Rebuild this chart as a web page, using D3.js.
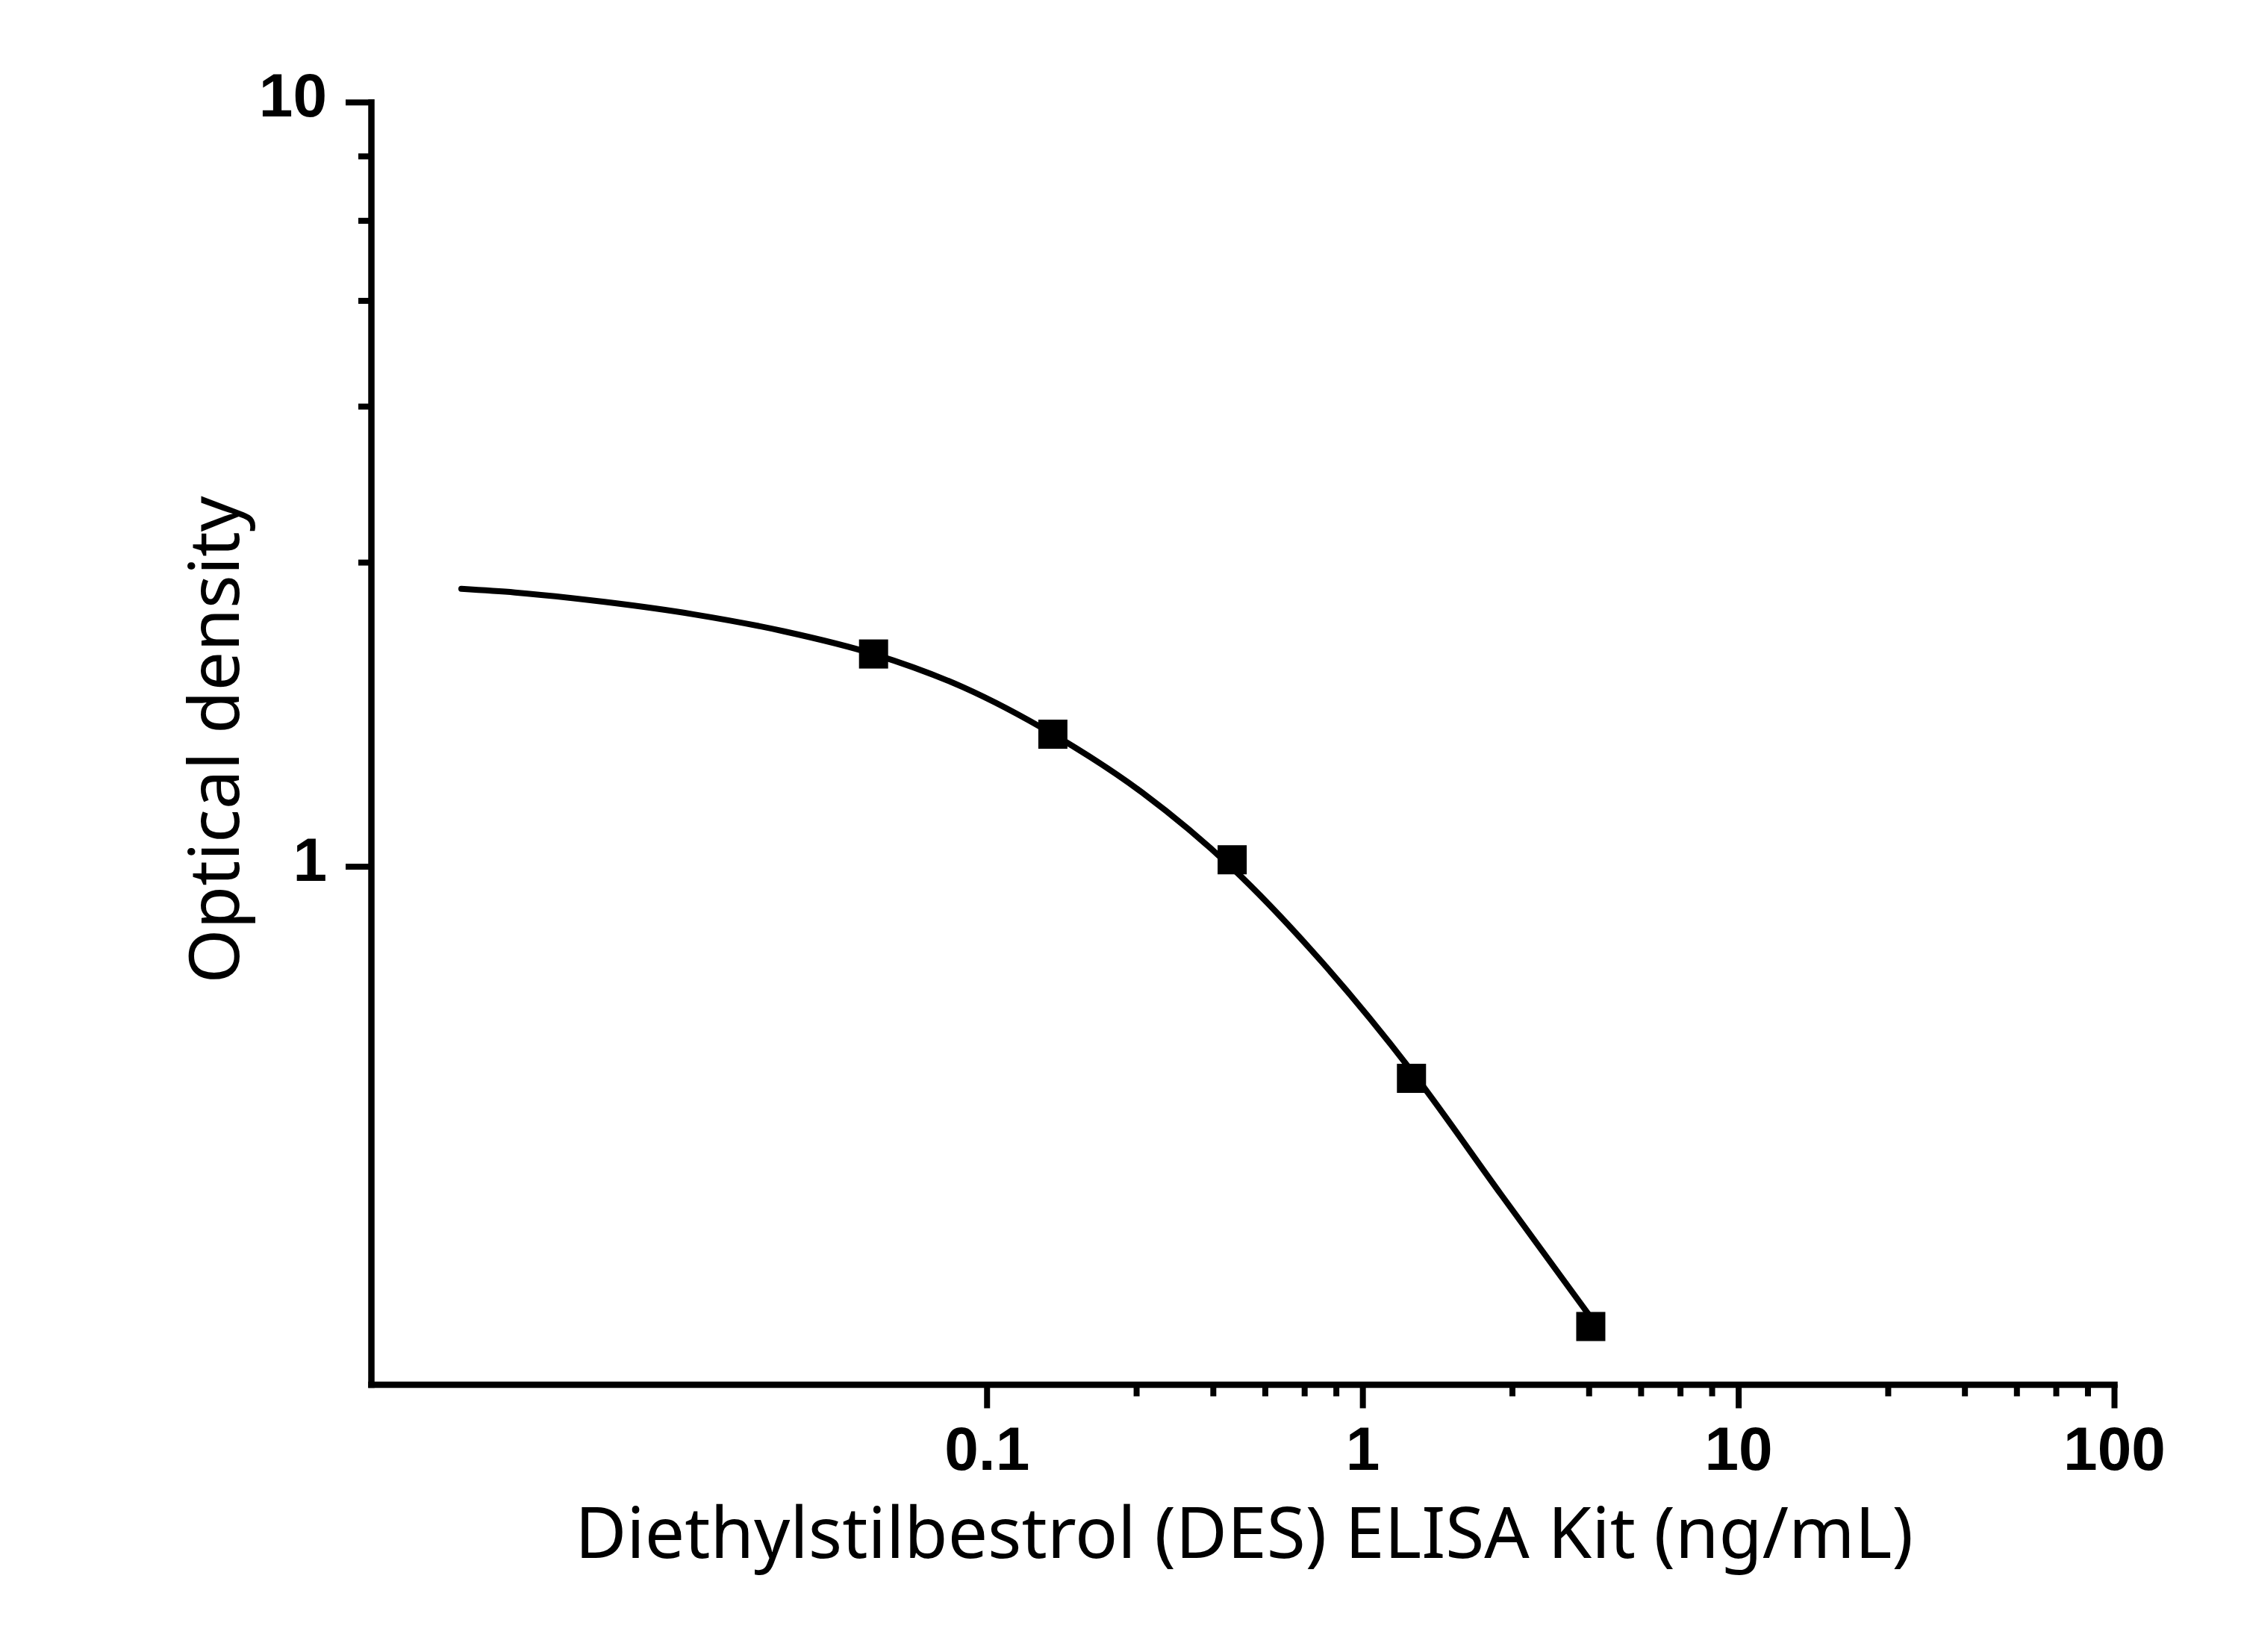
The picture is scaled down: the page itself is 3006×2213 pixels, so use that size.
<!DOCTYPE html>
<html>
    <head>
        <meta charset="utf-8">
        <title>DES ELISA standard curve</title>
        <script type="text/javascript" src="https://cdn.jsdelivr.net/npm/d3@7"></script>
        <style>
            html, body { margin: 0; padding: 0; background: #fff; }
            svg { display: block; }
        </style>
    </head>
    <body>
        <div id="chart"></div>
        <script type="text/javascript">
            // standard points (ng/mL vs OD)
            var concentrations = [0.05, 0.15, 0.45, 1.35, 4.05];
            var densities = [1.896, 1.489, 1.020, 0.528, 0.250];

            // fitted curve (it misses some points slightly)
            var curveX = [0.004, 0.00556, 0.00962, 0.01667, 0.0289, 0.05, 0.0866, 0.15, 0.2598, 0.45, 0.779, 1.35, 2.338, 4.05];
            var curveY = [2.307, 2.282, 2.218, 2.136, 2.03, 1.896, 1.715, 1.489, 1.248, 0.995, 0.750, 0.540, 0.372, 0.257];

            var xMajor = [0.1, 1, 10, 100];
            var xMinor = [0.25, 0.4, 0.55, 0.7, 0.85, 2.5, 4, 5.5, 7, 8.5, 25, 40, 55, 70, 85];
            var xLabels = ["0.1", "1", "10", "100"];
            var yMajor = [1, 10];
            var yMinor = [2.5, 4, 5.5, 7, 8.5];
            var yLabels = ["1", "10"];

            var xTitle = "Diethylstilbestrol (DES) ELISA Kit (ng/mL)";
            var yTitle = "Optical density";

            (function () {
                var W = 3006, H = 2213;
                var plotLeft = 497, plotRight = 2832, plotTop = 136.7, plotBottom = 1854.5;
                var tickFont = "'Liberation Sans', Arial, sans-serif";
                var titleFont = "'Noto Sans', 'Open Sans', sans-serif";

                var svg = d3.select("#chart").append("svg")
                    .attr("width", W).attr("height", H);
                svg.append("rect").attr("width", W).attr("height", H).attr("fill", "#fff");

                var x = d3.scaleLog().domain([0.0023, 100]).range([plotLeft, plotRight]);
                var y = d3.scaleLog().domain([0.21, 10]).range([plotBottom, plotTop]);

                // minor ticks first, then the major axis with the domain line
                svg.append("g")
                    .attr("transform", "translate(0," + plotBottom + ")")
                    .call(d3.axisBottom(x).tickValues(xMinor).tickSize(16).tickSizeOuter(0).tickFormat(""))
                    .call(function (g) { g.select(".domain").remove(); });
                svg.append("g")
                    .attr("transform", "translate(" + plotLeft + ",0)")
                    .call(d3.axisLeft(y).tickValues(yMinor).tickSize(17).tickSizeOuter(0).tickFormat(""))
                    .call(function (g) { g.select(".domain").remove(); });

                var gx = svg.append("g")
                    .attr("class", "x axis")
                    .attr("transform", "translate(0," + plotBottom + ")")
                    .call(d3.axisBottom(x).tickValues(xMajor).tickSize(32).tickSizeOuter(0)
                        .tickFormat(function (d, i) { return xLabels[i]; }));
                gx.selectAll(".tick text")
                    .attr("y", 114).attr("dy", null)
                    .style("font-family", tickFont).style("font-size", "82px").style("font-weight", "bold")
                    .attr("fill", "#000");

                var gy = svg.append("g")
                    .attr("class", "y axis")
                    .attr("transform", "translate(" + plotLeft + ",0)")
                    .call(d3.axisLeft(y).tickValues(yMajor).tickSize(34).tickSizeOuter(0)
                        .tickFormat(function (d, i) { return yLabels[i]; }));
                gy.selectAll(".tick text")
                    .attr("x", -59).attr("dy", 19)
                    .style("font-family", tickFont).style("font-size", "82px").style("font-weight", "bold")
                    .attr("fill", "#000");

                svg.selectAll(".tick line").attr("stroke", "#000").attr("stroke-width", 8);
                svg.selectAll(".domain")
                    .attr("stroke", "#000").attr("stroke-width", 8.5)
                    .attr("stroke-linecap", "square").attr("fill", "none");

                // fitted curve
                var line = d3.line()
                    .x(function (d) { return x(d[0]); })
                    .y(function (d) { return y(d[1]); })
                    .curve(d3.curveMonotoneX);
                svg.append("path")
                    .datum(d3.zip(curveX, curveY))
                    .attr("d", line)
                    .attr("fill", "none")
                    .attr("stroke", "#000")
                    .attr("stroke-width", 8)
                    .attr("stroke-linecap", "round")
                    .attr("stroke-linejoin", "round");

                // markers
                var sz = 39;
                svg.selectAll("rect.pt")
                    .data(d3.zip(concentrations, densities))
                    .enter().append("rect")
                    .attr("class", "pt")
                    .attr("x", function (d) { return x(d[0]) - sz / 2; })
                    .attr("y", function (d) { return y(d[1]) - sz / 2; })
                    .attr("width", sz).attr("height", sz)
                    .attr("fill", "#000");

                // axis titles, sized to the width they take in the original
                function fitText(sel, target) {
                    sel.style("font-size", "100px");
                    var len = sel.node().getComputedTextLength();
                    sel.style("font-size", (100 * target / len) + "px");
                }
                var tx = svg.append("text")
                    .attr("x", (plotLeft + plotRight) / 2 + 2)
                    .attr("y", 2087)
                    .attr("text-anchor", "middle")
                    .style("font-family", titleFont)
                    .attr("fill", "#000")
                    .text(xTitle);
                fitText(tx, 1793);

                var ty = svg.append("text")
                    .attr("transform", "translate(320,991) rotate(-90)")
                    .attr("text-anchor", "middle")
                    .style("font-family", titleFont)
                    .attr("fill", "#000")
                    .text(yTitle);
                fitText(ty, 653);
            })();
        </script>
    </body>
</html>
